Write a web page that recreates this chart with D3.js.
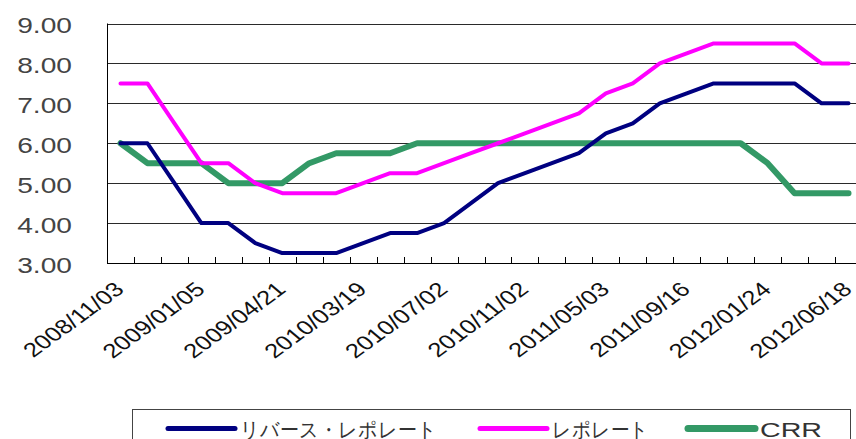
<!DOCTYPE html>
<html>
<head>
<meta charset="utf-8">
<style>
  body { margin: 0; background: #fff; }
  svg { display: block; }
  text { font-family: "Liberation Sans", Arial, sans-serif; }
</style>
</head>
<body>
<script src="https://cdn.jsdelivr.net/npm/d3@7"></script>
<script>

// category labels (only every third one is printed on the axis)
var tickLabels = [
  "2008/11/03", "", "", "2009/01/05", "", "", "2009/04/21", "", "",
  "2010/03/19", "", "", "2010/07/02", "", "", "2010/11/02", "", "",
  "2011/05/03", "", "", "2011/09/16", "", "", "2012/01/24", "", "",
  "2012/06/18"
];

var reverseRepo = [6.00, 6.00, 5.00, 4.00, 4.00, 3.50, 3.25, 3.25, 3.25, 3.50, 3.75, 3.75, 4.00, 4.50,
                   5.00, 5.25, 5.50, 5.75, 6.25, 6.50, 7.00, 7.25, 7.50, 7.50, 7.50, 7.50, 7.00, 7.00];
var repo        = [7.50, 7.50, 6.50, 5.50, 5.50, 5.00, 4.75, 4.75, 4.75, 5.00, 5.25, 5.25, 5.50, 5.75,
                   6.00, 6.25, 6.50, 6.75, 7.25, 7.50, 8.00, 8.25, 8.50, 8.50, 8.50, 8.50, 8.00, 8.00];
var crr         = [6.00, 5.50, 5.50, 5.50, 5.00, 5.00, 5.00, 5.50, 5.75, 5.75, 5.75, 6.00, 6.00, 6.00,
                   6.00, 6.00, 6.00, 6.00, 6.00, 6.00, 6.00, 6.00, 6.00, 6.00, 5.50, 4.75, 4.75, 4.75];

var yTicks = [3, 4, 5, 6, 7, 8, 9];

var series = [
  {name: "リバース・レポレート", values: reverseRepo, color: "#000080", width: 4},
  {name: "レポレート",           values: repo,        color: "#ff00ff", width: 4},
  {name: "CRR",                  values: crr,         color: "#339966", width: 6},
];

var W = 856, H = 439;
var stretch = 1.28;   // the original picture is stretched sideways

var svg = d3.select("body").append("svg")
    .attr("width", W)
    .attr("height", H);

var x = d3.scaleBand()
    .domain(d3.range(tickLabels.length))
    .range([107, 862]);

var y = d3.scaleLinear()
    .domain([3, 9])
    .range([263, 23.5]);

// grid lines
svg.append("g")
  .selectAll("line")
  .data(yTicks.slice(1))
  .join("line")
    .attr("x1", 107)
    .attr("x2", 862)
    .attr("y1", d => Math.round(y(d)) + 0.5)
    .attr("y2", d => Math.round(y(d)) + 0.5)
    .attr("stroke", "#2a2a2a")
    .attr("stroke-width", 1);

// y axis labels
svg.append("g")
  .selectAll("text")
  .data(yTicks)
  .join("text")
    .attr("transform", d => `translate(72,${y(d) + 9.5}) scale(${stretch},1)`)
    .attr("text-anchor", "end")
    .attr("font-size", 22)
    .attr("fill", "#444")
    .text(d3.format(".2f"));

// axis lines
svg.append("line")
    .attr("x1", 107.5).attr("x2", 107.5)
    .attr("y1", y(9)).attr("y2", y(3) + 0.5)
    .attr("stroke", "#000");
svg.append("line")
    .attr("x1", 107).attr("x2", 862)
    .attr("y1", Math.round(y(3)) + 0.5).attr("y2", Math.round(y(3)) + 0.5)
    .attr("stroke", "#000");

// tick marks between categories, pointing up
svg.append("g")
  .selectAll("line")
  .data(d3.range(1, tickLabels.length))
  .join("line")
    .attr("x1", d => Math.round(x(d)) + 0.5)
    .attr("x2", d => Math.round(x(d)) + 0.5)
    .attr("y1", Math.round(y(3)))
    .attr("y2", Math.round(y(3)) - 6)
    .attr("stroke", "#000");

// rotated category labels
svg.append("g")
  .selectAll("text")
  .data(tickLabels.map((t, i) => ({t, i})).filter(d => d.t))
  .join("text")
    .attr("transform", d => `translate(${x(d.i) + x.bandwidth() / 2 + 5},291) scale(${stretch},1) rotate(-43)`)
    .attr("text-anchor", "end")
    .attr("font-size", 20)
    .attr("fill", "#111")
    .text(d => d.t);

// series lines
var line = d3.line()
    .x((d, i) => x(i) + x.bandwidth() / 2)
    .y(d => y(d));

var drawOrder = [series[2], series[0], series[1]];
svg.append("g")
  .selectAll("path")
  .data(drawOrder)
  .join("path")
    .attr("d", d => line(d.values))
    .attr("fill", "none")
    .attr("stroke", d => d.color)
    .attr("stroke-width", d => d.width)
    .attr("stroke-linejoin", "round")
    .attr("stroke-linecap", "round");

// legend
var legend = svg.append("g");
legend.append("rect")
    .attr("x", 132.5)
    .attr("y", 409.5)
    .attr("width", 718)
    .attr("height", 60)
    .attr("fill", "#fff")
    .attr("stroke", "#444");

var legendX = [168, 480, 688];
var legendTextW = [197, 97, 62];
var item = legend.selectAll("g.item")
  .data(series)
  .join("g")
    .attr("class", "item")
    .attr("transform", (d, i) => `translate(${legendX[i]},0)`);

item.append("line")
    .attr("x1", 0).attr("x2", 67)
    .attr("y1", 428.5).attr("y2", 428.5)
    .attr("stroke", d => d.color)
    .attr("stroke-width", d => d.width + 1)
    .attr("stroke-linecap", "round");

item.append("text")
    .attr("x", 72)
    .attr("y", 437)
    .attr("font-size", 21)
    .attr("font-family", "'Noto Sans CJK JP', 'Liberation Sans', sans-serif")
    .attr("fill", "#333")
    .attr("textLength", (d, i) => legendTextW[i])
    .attr("lengthAdjust", "spacingAndGlyphs")
    .text(d => d.name);

</script>
</body>
</html>
